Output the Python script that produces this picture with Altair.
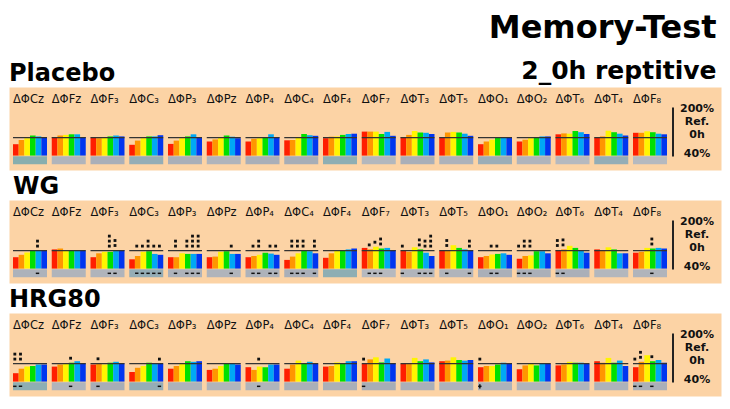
import altair as alt
import pandas as pd

# ---------------- data ----------------
panels = ["Placebo", "WG", "HRG80"]
letters = ["C", "F", "F", "C", "P", "P", "P", "C", "F", "F", "T", "T", "O", "O", "T", "T", "F"]
subs = ["z", "z", "3", "3", "3", "z", "4", "4", "4", "7", "3", "5", "1", "2", "6", "4", "8"]
bands = ["delta", "theta", "alpha1", "alpha2", "beta1", "beta2"]
band_colors = ["#FF1E00", "#FF9600", "#FFF500", "#00E000", "#00A8F5", "#0035F0"]

placebo_vals = [
    [78, 92, 98, 107, 104, 102], [102, 107, 109, 111, 111, 102], [100, 98, 102, 104, 107, 104],
    [76, 90, 98, 104, 104, 108], [79, 90, 98, 104, 111, 100], [87, 94, 100, 107, 103, 98],
    [87, 96, 98, 102, 111, 102], [91, 92, 102, 112, 108, 106], [98, 103, 104, 109, 112, 113],
    [120, 120, 120, 112, 119, 106], [101, 109, 122, 117, 116, 112], [101, 117, 119, 117, 113, 106],
    [78, 87, 93, 102, 102, 100], [87, 93, 98, 102, 104, 104], [111, 114, 113, 122, 118, 112],
    [100, 104, 123, 118, 113, 107], [116, 116, 121, 118, 113, 111],
]
wg_vals = [
    [78, 86, 94, 100, 100, 100], [104, 107, 102, 102, 100, 100], [78, 91, 96, 96, 102, 102],
    [71, 82, 96, 98, 89, 86], [78, 78, 91, 89, 89, 89], [78, 80, 96, 98, 89, 89],
    [78, 82, 86, 93, 90, 86], [69, 80, 91, 100, 98, 91], [76, 91, 100, 100, 104, 107],
    [109, 104, 113, 107, 109, 102], [100, 96, 111, 104, 93, 82], [100, 102, 118, 109, 104, 100],
    [78, 82, 87, 89, 91, 86], [73, 82, 84, 98, 98, 91], [102, 104, 116, 109, 102, 93],
    [104, 102, 111, 104, 91, 91], [93, 96, 109, 107, 109, 107],
]
hrg_vals = [
    [68, 83, 90, 92, 97, 97], [90, 97, 101, 103, 108, 101], [97, 101, 97, 103, 106, 101],
    [72, 86, 92, 103, 101, 99], [83, 92, 101, 108, 106, 108], [79, 83, 92, 101, 99, 97],
    [88, 79, 90, 88, 97, 97], [83, 97, 110, 101, 106, 99], [90, 92, 104, 101, 108, 108],
    [99, 114, 121, 104, 117, 101], [99, 99, 119, 108, 114, 104], [108, 110, 121, 112, 110, 112],
    [88, 92, 92, 97, 103, 99], [81, 94, 101, 94, 101, 99], [94, 97, 106, 103, 103, 99],
    [108, 103, 119, 103, 110, 92], [88, 106, 128, 108, 112, 103],
]

# tone of the grey strip under each electrode (0 = light grey, 1 = teal)
placebo_tone = [1.0, 0.2, 0.4, 0.8, 0.4, 0.2, 0.4, 0.5, 0.9, 0.1, 0.4, 0.3, 0.7, 0.2, 0.0, 0.8, 0.0]
wg_tone = [0.3, 0.2, 0.2, 0.8, 0.3, 0.2, 0.3, 0.4, 0.9, 0.0, 0.2, 0.2, 0.4, 0.4, 0.4, 0.1, 0.2]
hrg_tone = [0.9, 0.2, 0.5, 0.8, 0.3, 0.2, 0.2, 0.4, 0.4, 0.5, 0.4, 0.3, 0.3, 0.2, 0.2, 0.3, 0.4]

# significance marks: (electrode, band, number of dots, sign in strip)
placebo_sig = []
wg_sig = [
    (0, 4, 2, "-"), (2, 3, 3, "-"), (2, 4, 2, "-"),
    (3, 1, 1, "-"), (3, 2, 1, "-"), (3, 3, 2, "-"), (3, 4, 1, "-"), (3, 5, 1, "-"),
    (4, 1, 2, "-"), (4, 3, 2, "-"), (4, 4, 3, "-"), (4, 5, 3, "-"), (5, 4, 1, "-"),
    (6, 1, 1, "-"), (6, 2, 2, "-"), (6, 4, 1, "-"), (6, 5, 1, "-"),
    (7, 1, 2, "-"), (7, 2, 2, "-"), (7, 3, 2, "-"), (7, 5, 2, "-"),
    (9, 1, 1, "-"), (9, 2, 1, "-"), (9, 3, 2, "-"),
    (10, 0, 1, "-"), (10, 3, 2, "-"), (10, 4, 2, "-"), (10, 5, 3, "-"),
    (11, 1, 2, "-"), (11, 5, 2, "-"), (12, 2, 1, "-"), (12, 3, 1, "-"),
    (13, 0, 1, "-"), (13, 1, 2, "-"), (13, 2, 2, "-"), (14, 0, 2, "-"), (14, 1, 2, "-"),
    (16, 3, 2, "-"),
]
hrg_sig = [
    (0, 0, 2, "-"), (0, 1, 2, "-"), (1, 3, 1, "-"), (2, 1, 1, "-"), (3, 5, 1, "-"),
    (6, 2, 1, "-"), (9, 0, 1, "-"), (12, 0, 1, "+"),
    (16, 0, 1, "-"), (16, 1, 2, "-"), (16, 3, 1, "-"),
]

scale_texts = ["200%", "Ref.", "0h", "40%"]
scale_text_y = [196, 152, 109, 46]
scale_span = [200, 37]

# ---------------- layout constants ----------------
VIEW_W = 712
VIEW_H = 83
GROUP_PX = 38.75
FIRST_PX = 4
Y_LO, Y_HI = -8, 268.7
BAR_FRAC = 34 / 38.75
BW = BAR_FRAC / 6
ONE_PX = 1 / GROUP_PX
PCT_PX = 1 / 0.3  # percent units per pixel
BASE = 40
REF = 100
STRIP_TOP, STRIP_BOT = 37.5, 11
STRIP_MID = (STRIP_TOP + STRIP_BOT) / 2

SUBS = {"z": "\u1d22", "1": "\u2081", "2": "\u2082", "3": "\u2083", "4": "\u2084",
        "5": "\u2085", "6": "\u2086", "7": "\u2087", "8": "\u2088"}

xs = alt.Scale(domain=[-FIRST_PX / GROUP_PX, (VIEW_W - FIRST_PX) / GROUP_PX], nice=False, zero=False)
ys = alt.Scale(domain=[Y_LO, Y_HI], nice=False, zero=False)


def X(f):
    return alt.X(f"{f}:Q", scale=xs, axis=None)


def Y(f):
    return alt.Y(f"{f}:Q", scale=ys, axis=None)


def panel(name, vals, tone, sig, dx=0):
    n = len(letters)
    bar_rows = []
    for g, vs in enumerate(vals):
        for b, v in enumerate(vs):
            bar_rows.append(dict(g=g, band=bands[b], v=v, base=BASE,
                                 x=g + b * BW, x2=g + (b + 1) * BW))
    bars_df = pd.DataFrame(bar_rows)
    grp_df = pd.DataFrame(dict(
        g=list(range(n)), tone=tone,
        x=[g for g in range(n)], x2=[g + BAR_FRAC for g in range(n)],
        top=[STRIP_TOP] * n, bot=[STRIP_BOT] * n, ref=[REF] * n,
        label=["\u0394\u03a6" + letters[g] + SUBS[subs[g]] for g in range(n)],
        ly=[217] * n,
    ))
    dot_rows, dash_rows = [], []
    for g, b, c, s in sig:
        cx = g + (b + 0.5) * BW - ONE_PX
        top = max(REF, vals[g][b])
        for k in range(c):
            dot_rows.append(dict(x=cx, y=top + 4.5 * PCT_PX + 5 * PCT_PX * k))
        dash_rows.append(dict(x=cx - 1.7 * ONE_PX, x2=cx + 1.7 * ONE_PX,
                              y=STRIP_MID + 0.75 * PCT_PX, y2=STRIP_MID - 0.75 * PCT_PX))
        if s == "+":
            dash_rows.append(dict(x=cx - 0.75 * ONE_PX, x2=cx + 0.75 * ONE_PX,
                                  y=STRIP_MID + 2.2 * PCT_PX, y2=STRIP_MID - 2.2 * PCT_PX))
    scale_df = pd.DataFrame(dict(t=scale_texts, y=scale_text_y))
    span_df = pd.DataFrame(dict(y=[scale_span[0]], y2=[scale_span[1]]))

    layers = [
        alt.Chart(grp_df).mark_rect().encode(
            x=X("x"), x2="x2", y=Y("top"), y2="bot",
            fill=alt.Fill("tone:Q", scale=alt.Scale(domain=[0, 0.5, 1],
                                                    range=["#B6B9BF", "#A7ADB6", "#88AEAE"]),
                          legend=None)),
        alt.Chart(bars_df).mark_rect().encode(
            x=X("x"), x2="x2", y=Y("v"), y2="base",
            color=alt.Color("band:N", scale=alt.Scale(domain=bands, range=band_colors), legend=None)),
        alt.Chart(grp_df).mark_rule(color="#333333", strokeWidth=1.4).encode(
            x=X("x"), x2="x2", y=Y("ref")),
        alt.Chart(grp_df).mark_text(align="left", baseline="alphabetic", font="DejaVu Sans",
                                    fontSize=11.5, color="#111111").encode(
            x=X("x"), y=Y("ly"), text="label:N"),
        alt.Chart(span_df).mark_rule(color="#222222", strokeWidth=2).encode(
            x=alt.value(664), y=Y("y"), y2="y2"),
        alt.Chart(scale_df).mark_text(align="center", baseline="middle", font="DejaVu Sans",
                                      fontSize=11, fontWeight="bold", color="#111111").encode(
            x=alt.value(688), y=Y("y"), text="t:N"),
    ]
    if dot_rows:
        layers.append(alt.Chart(pd.DataFrame(dot_rows)).mark_square(
            color="#111111", size=8, opacity=1).encode(x=X("x"), y=Y("y")))
        layers.append(alt.Chart(pd.DataFrame(dash_rows)).mark_rect(color="#111111").encode(
            x=X("x"), x2="x2", y=Y("y"), y2="y2"))
    return alt.layer(*layers).properties(
        width=VIEW_W, height=VIEW_H,
        title=alt.TitleParams(name, anchor="start", font="DejaVu Sans", fontSize=24,
                              fontWeight="bold", color="black", offset=1, dx=dx))


chart = alt.vconcat(
    panel("Placebo", placebo_vals, placebo_tone, placebo_sig),
    panel("WG", wg_vals, wg_tone, wg_sig, dx=4),
    panel("HRG80", hrg_vals, hrg_tone, hrg_sig),
    spacing=3,
).properties(
    padding={"top": 3, "left": 0, "right": 0, "bottom": 0},
    title=alt.TitleParams(text="Memory-Test", subtitle="2_0h reptitive", anchor="end",
                          font="DejaVu Sans", fontSize=32, fontWeight="bold", color="black",
                          subtitleFont="DejaVu Sans", subtitleFontSize=25,
                          subtitleFontWeight="bold", subtitleColor="black",
                          subtitlePadding=14, offset=-23, dx=-5),
).configure_view(fill="#FCD3A5", stroke="transparent")

chart.save("out.html", embed_options={"renderer": "svg", "actions": False})
